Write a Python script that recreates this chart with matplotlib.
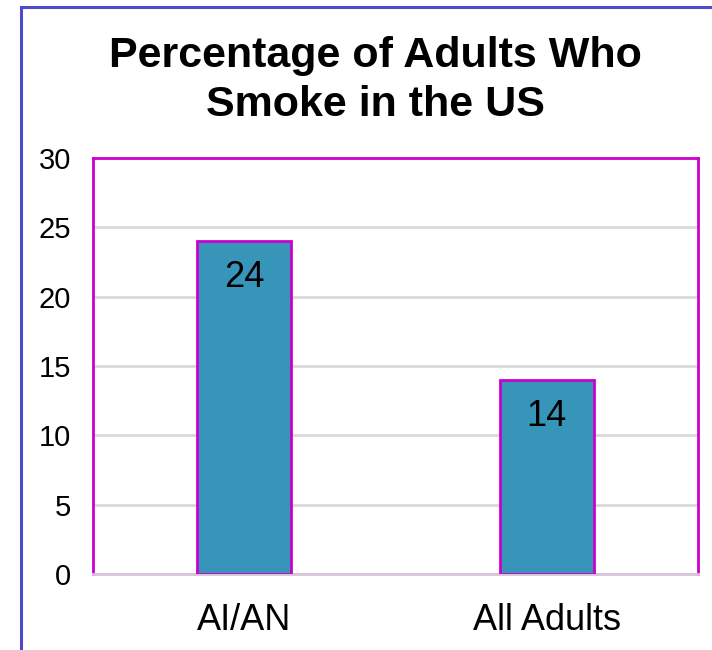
import matplotlib.pyplot as plt
from matplotlib.patches import Rectangle

plt.rcParams['font.family'] = ['Liberation Sans', 'DejaVu Sans']

categories = ['AI/AN', 'All Adults']
values = [24, 14]
yticks = [0, 5, 10, 15, 20, 25, 30]

fig = plt.figure(figsize=(7.12, 6.5), dpi=100)
ax = fig.add_axes([0.1306, 0.1169, 0.8497, 0.64])

# outer frame of the chart
fig.patches.append(Rectangle((21 / 712, -0.01), 1.0, 1 - 7 / 650 + 0.01,
                             transform=fig.transFigure, fill=False,
                             edgecolor='#4B4BCC', linewidth=2.2, zorder=0))

bars = ax.bar(range(len(categories)), values, width=0.31, color='#3795BA',
              edgecolor='#CC00CC', linewidth=2, zorder=3)
for b, v in zip(bars, values):
    ax.text(b.get_x() + b.get_width() / 2, v - 3.3, str(v), ha='center', va='baseline',
            fontsize=26, color='black', zorder=4)

ax.set_xlim(-0.5, 1.5)
ax.set_ylim(0, 30)
ax.set_yticks(yticks)
ax.yaxis.grid(True, color='#D9D9D9', linewidth=2, zorder=0)
ax.set_axisbelow(True)
ax.set_xticks(range(len(categories)))
ax.set_xticklabels(categories, fontsize=26)
ax.tick_params(axis='y', labelsize=21, length=0, pad=16)
ax.tick_params(axis='x', length=0, pad=21)

for s in ['left', 'top', 'right']:
    ax.spines[s].set_color('#CC00CC')
    ax.spines[s].set_linewidth(2)
ax.spines['bottom'].set_color('#D9C3D9')
ax.spines['bottom'].set_linewidth(2)

fig.text(375 / 712, 1 - 36 / 650, 'Percentage of Adults Who\nSmoke in the US',
         ha='center', va='top', fontsize=31, fontweight='bold', linespacing=1.28)

fig.savefig('out.png', dpi=100)
